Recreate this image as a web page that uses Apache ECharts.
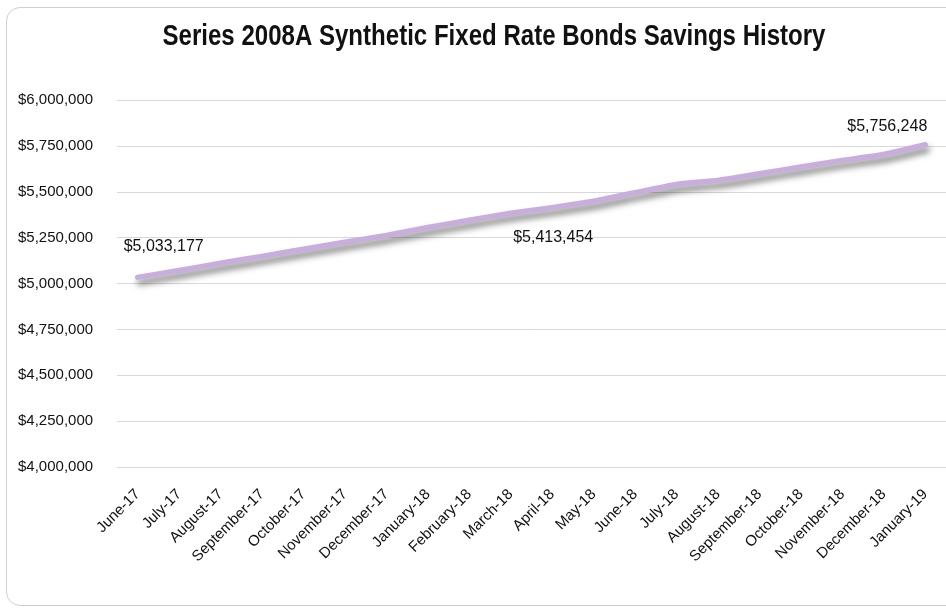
<!DOCTYPE html>
<html>
<head>
<meta charset="utf-8">
<script src="https://cdn.jsdelivr.net/npm/echarts@6/dist/echarts.min.js"></script>
<style>
  html, body { margin: 0; padding: 0; background: #fff; }
  #frame { position: absolute; left: 6px; top: 7px; width: 960px; height: 597px; border: 1px solid #cfcfcf; border-radius: 14px; }
  #chart { position: absolute; left: 0; top: 0; width: 946px; height: 613px; }
</style>
</head>
<body>
<div id="frame"></div>
<div id="chart"></div>
<script>
const titleText = 'Series 2008A Synthetic Fixed Rate Bonds Savings History';
const months = ['June-17','July-17','August-17','September-17','October-17','November-17','December-17','January-18','February-18','March-18','April-18','May-18','June-18','July-18','August-18','September-18','October-18','November-18','December-18','January-19'];
const savings = [5033177, 5071000, 5110000, 5148000, 5187000, 5225000, 5262000, 5305000, 5345000, 5383000, 5413454, 5448000, 5495000, 5540000, 5562000, 5598000, 5635000, 5671000, 5703000, 5756248];
const labelledIdx = [0, 10, 19];
const yTicks = { min: 4000000, max: 6000000, step: 250000 };

const sans = "'Liberation Sans', Arial, sans-serif";
const labelPos = {
  0: { position: 'top', offset: [26, -17] },
  10: { position: 'bottom', offset: [1, 16] },
  19: { position: 'top', offset: [-38, -5] }
};
const seriesData = savings.map((v, i) => {
  if (labelledIdx.indexOf(i) >= 0) {
    return { value: v, label: Object.assign({ show: true }, labelPos[i]) };
  }
  return v;
});

// condensed title: measure and squeeze horizontally
const titleFont = "bold 29px 'Liberation Sans', Arial, sans-serif";
const mctx = document.createElement('canvas').getContext('2d');
mctx.font = titleFont;
const titleScale = 663 / mctx.measureText(titleText).width;

const chart = echarts.init(document.getElementById('chart'), null, { renderer: 'canvas' });
chart.setOption({
  animation: false,
  backgroundColor: 'transparent',
  graphic: [{
    type: 'text',
    x: 494,
    y: 37,
    scaleX: titleScale,
    style: { text: titleText, font: titleFont, fill: '#111', textAlign: 'center', textVerticalAlign: 'middle' }
  }],
  grid: { left: 117, right: -5, top: 100, bottom: 146, containLabel: false },
  xAxis: {
    type: 'category',
    data: months,
    boundaryGap: true,
    axisLine: { show: false },
    axisTick: { show: false },
    axisLabel: { rotate: 45, interval: 0, fontFamily: sans, fontSize: 15, color: '#111', margin: 25 }
  },
  yAxis: {
    type: 'value',
    min: yTicks.min,
    max: yTicks.max,
    interval: yTicks.step,
    axisLine: { show: false },
    axisTick: { show: false },
    splitLine: { lineStyle: { color: '#d9d9d9', width: 1 } },
    axisLabel: {
      align: 'left',
      margin: 99,
      fontFamily: sans,
      fontSize: 15,
      color: '#111',
      formatter: v => '$' + v.toLocaleString('en-US')
    }
  },
  series: [{
    type: 'line',
    data: seriesData,
    symbol: 'circle',
    symbolSize: 1,
    showSymbol: true,
    itemStyle: { color: 'rgba(0,0,0,0)', borderWidth: 0 },
    smooth: 0.15,
    lineStyle: { color: '#c8aedb', width: 5.5, cap: 'round', join: 'round', shadowColor: 'rgba(0,0,0,0.5)', shadowBlur: 6, shadowOffsetX: 2, shadowOffsetY: 5 },
    label: {
      show: false,
      fontFamily: sans,
      fontSize: 16,
      color: '#111',
      formatter: p => '$' + p.value.toLocaleString('en-US')
    }
  }]
});
</script>
</body>
</html>
